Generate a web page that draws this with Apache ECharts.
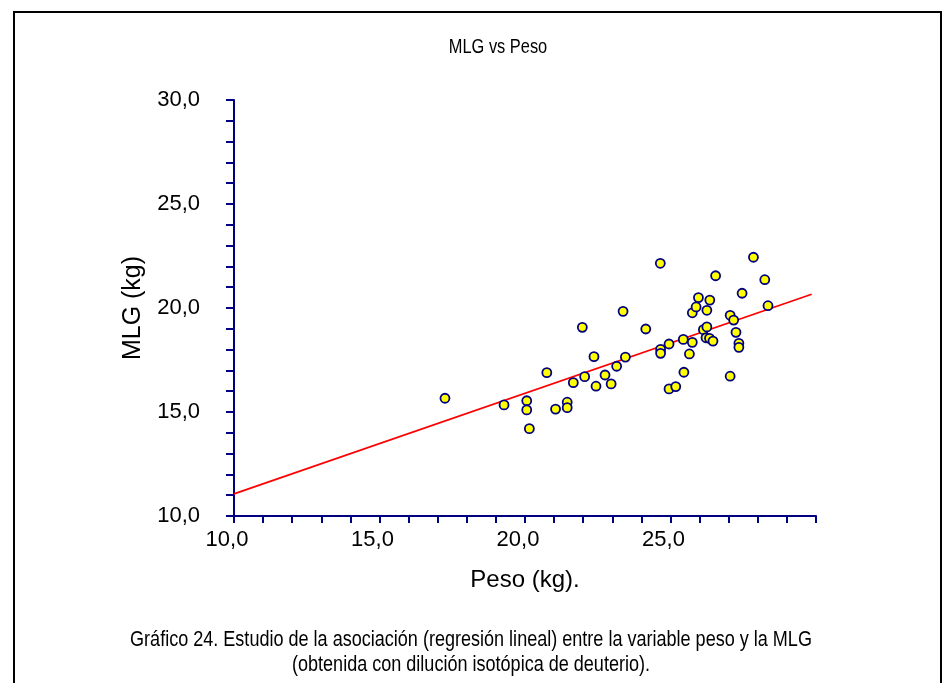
<!DOCTYPE html>
<html>
<head>
<meta charset="utf-8">
<script src="https://cdn.jsdelivr.net/npm/echarts@6/dist/echarts.min.js"></script>
<style>html,body{margin:0;padding:0;background:#fff;}#main{width:942px;height:683px;}</style>
</head>
<body>
<div id="main"></div>
<script>
// Data: Peso (kg) vs MLG (kg)
const peso = [17.25,19.28,20.06,20.06,20.15,20.75,21.05,21.45,21.45,21.66,21.97,22.05,22.37,22.44,22.75,22.96,23.15,23.37,23.45,24.15,24.65,24.66,24.66,24.95,24.95,25.18,25.44,25.46,25.65,25.75,25.75,25.88,25.96,26.13,26.25,26.22,26.34,26.46,26.25,26.35,26.55,27.05,27.17,27.05,27.25,27.35,27.35,27.46,27.85,28.24,28.35];
const mlg  = [15.66,15.34,15.54,15.10,14.20,16.89,15.14,15.47,15.21,16.41,19.07,16.70,17.66,16.24,16.78,16.35,17.20,19.84,17.64,18.99,22.15,18.01,17.82,18.27,16.11,16.22,18.49,16.91,17.79,18.35,19.77,20.05,20.50,18.96,19.09,18.57,18.54,18.41,19.89,20.38,21.55,19.65,19.42,16.72,18.83,18.30,18.11,20.71,22.44,21.36,20.11];
const regX = [10, 29.85];
const regY = [11.06, 20.66];
const xTicks = {min: 10, max: 30, step: 5};
const yTicks = {min: 10, max: 30, step: 5};
const titleText = 'MLG vs Peso';
const xName = 'Peso (kg).';
const yName = 'MLG (kg)';
const caption1 = 'Gráfico 24. Estudio de la asociación (regresión lineal) entre la variable peso y la MLG';
const caption2 = '(obtenida con dilución isotópica de deuterio).';

const points = peso.map((p, i) => [p, mlg[i]]);
const regLine = regX.map((x, i) => [x, regY[i]]);
const fmt = v => v.toFixed(1).replace('.', ',');
const axisColor = '#000080';
const FONT = 'Liberation Sans, Arial, sans-serif';

const chart = echarts.init(document.getElementById('main'), null, {renderer: 'canvas'});
chart.setOption({
  backgroundColor: '#fff',
  animation: false,
  grid: {left: 234, top: 100, width: 582, height: 416, containLabel: false},
  xAxis: {
    type: 'value', min: xTicks.min, max: xTicks.max, interval: xTicks.step,
    name: xName, nameLocation: 'middle', nameGap: 52,
    nameTextStyle: {fontFamily: FONT, fontSize: 24, color: '#000'},
    axisLine: {show: true, onZero: false, lineStyle: {color: axisColor, width: 2}},
    axisTick: {show: true, inside: false, length: 7, lineStyle: {color: axisColor, width: 2}},
    minorTick: {show: true, splitNumber: 5, length: 7, lineStyle: {color: axisColor, width: 2}},
    splitLine: {show: false},
    axisLabel: {formatter: fmt, showMaxLabel: false, margin: 13, padding: [0, 14, 0, 0], fontFamily: FONT, fontSize: 22, color: '#000'}
  },
  yAxis: {
    type: 'value', min: yTicks.min, max: yTicks.max, interval: yTicks.step,
    name: yName, nameLocation: 'middle', nameGap: 88,
    nameTextStyle: {fontFamily: FONT, fontSize: 25, color: '#000'},
    axisLine: {show: true, onZero: false, lineStyle: {color: axisColor, width: 2}},
    axisTick: {show: true, inside: false, length: 8, lineStyle: {color: axisColor, width: 2}},
    minorTick: {show: true, splitNumber: 5, length: 8, lineStyle: {color: axisColor, width: 2}},
    splitLine: {show: false},
    axisLabel: {formatter: fmt, margin: 34, padding: [6, 0, 0, 0], fontFamily: FONT, fontSize: 22, color: '#000'}
  },
  series: [
    {
      type: 'line', data: regLine, showSymbol: false, symbol: 'none', z: 2,
      lineStyle: {color: '#ff0000', width: 1.8}
    },
    {
      type: 'scatter', data: points, symbol: 'circle', symbolSize: 9, z: 3,
      itemStyle: {color: '#ffff00', borderColor: axisColor, borderWidth: 1.8, opacity: 1}
    }
  ],
  graphic: [
    {type: 'rect', shape: {x: 14, y: 12, width: 927, height: 700}, style: {fill: 'none', stroke: '#000', lineWidth: 2}, silent: true},
    {type: 'text', x: 498, y: 47, scaleX: 0.82, style: {text: titleText, textAlign: 'center', textVerticalAlign: 'middle', fontFamily: FONT, fontSize: 20, fill: '#000'}},
    {type: 'text', x: 471, y: 640, scaleX: 0.82, style: {text: caption1, textAlign: 'center', textVerticalAlign: 'middle', fontFamily: FONT, fontSize: 22, fill: '#000'}},
    {type: 'text', x: 471, y: 665, scaleX: 0.82, style: {text: caption2, textAlign: 'center', textVerticalAlign: 'middle', fontFamily: FONT, fontSize: 22, fill: '#000'}}
  ]
});
</script>
</body>
</html>
